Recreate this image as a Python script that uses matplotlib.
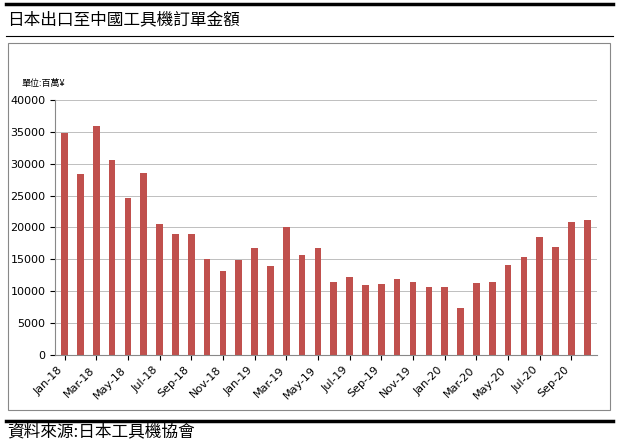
import matplotlib.pyplot as plt
from matplotlib.patches import Rectangle
from matplotlib.lines import Line2D

plt.rcParams['font.family'] = ['Noto Sans CJK TC', 'DejaVu Sans']

months = ['Jan-18', 'Feb-18', 'Mar-18', 'Apr-18', 'May-18', 'Jun-18', 'Jul-18', 'Aug-18',
          'Sep-18', 'Oct-18', 'Nov-18', 'Dec-18', 'Jan-19', 'Feb-19', 'Mar-19', 'Apr-19',
          'May-19', 'Jun-19', 'Jul-19', 'Aug-19', 'Sep-19', 'Oct-19', 'Nov-19', 'Dec-19',
          'Jan-20', 'Feb-20', 'Mar-20', 'Apr-20', 'May-20', 'Jun-20', 'Jul-20', 'Aug-20',
          'Sep-20', 'Oct-20']
orders = [34800, 28400, 35900, 30500, 24600, 28600, 20600, 19000,
          18900, 15000, 13100, 14900, 16700, 14000, 20100, 15600,
          16800, 11500, 12300, 11000, 11200, 11900, 11500, 10600,
          10700, 7300, 11300, 11500, 14100, 15400, 18500, 17000,
          20900, 21200]

fig = plt.figure(figsize=(6.19, 4.42), dpi=100)

# header / footer lines and chart frame
fig.add_artist(Line2D([0.01, 0.99], [0.99, 0.99], color='black', lw=2.5))
fig.add_artist(Line2D([0.01, 0.99], [0.918, 0.918], color='black', lw=0.8))
fig.add_artist(Line2D([0.01, 0.99], [0.048, 0.048], color='black', lw=2.5))
fig.add_artist(Rectangle((0.013, 0.073), 0.972, 0.83, fill=False, lw=0.8,
                         edgecolor='#888888', transform=fig.transFigure))
fig.text(0.012, 0.955, '日本出口至中國工具機訂單金額', fontsize=12, va='center')
fig.text(0.012, 0.022, '資料來源:日本工具機協會', fontsize=12, va='center')
fig.text(0.035, 0.81, '單位:百萬¥', fontsize=6.5, va='center')

ax = fig.add_axes([0.089, 0.197, 0.875, 0.577])
x = range(len(months))
ax.bar(x, orders, width=0.42, color='#C0504D')
ax.set_xlim(-0.6, len(months) - 0.4)
ax.set_ylim(0, 40000)
ax.set_yticks(range(0, 40001, 5000))
ax.set_xticks(list(x)[::2])
ax.set_xticklabels(months[::2], rotation=45, ha='right', fontsize=8, family='DejaVu Sans')
ax.tick_params(axis='y', labelsize=8)
for lab in ax.get_yticklabels():
    lab.set_family('DejaVu Sans')
ax.grid(axis='y', color='#bfbfbf', lw=0.7)
ax.set_axisbelow(True)
for s in ['top', 'right']:
    ax.spines[s].set_visible(False)
ax.spines['left'].set_color('#888888')
ax.spines['bottom'].set_color('#888888')

fig.savefig('out.png', dpi=100)
